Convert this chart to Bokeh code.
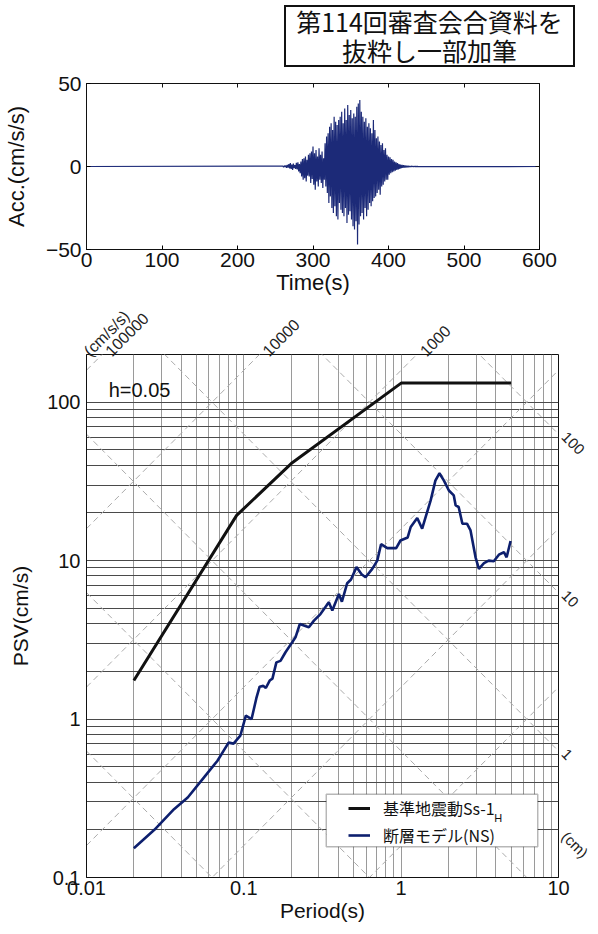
import math
from bokeh.plotting import figure
from bokeh.models import (Label, Legend, LegendItem, BoxAnnotation, FixedTicker,
                          CustomJSTickFormatter, LogAxis, LinearAxis, Range1d, Div)
from bokeh.layouts import column
from bokeh.embed import file_html
from bokeh.resources import INLINE

# ---------------- data ----------------
title_lines = ["第114回審査会合資料を", "抜粋し一部加筆"]

# acceleration time history (cm/s/s), 1 s samples starting at acc_t0
acc_t0 = 260
acc_dt = 1
acc_values = [
    0.3, -0.4, 0.5, -0.3, 0.6, -0.8, 1.0, -0.7, 1.5, -1.2, 2.0, -1.5, 1.2, -2.0, 1.8, -1.0, 0.8, -1.5, 2.2, -1.8,
    2.5, -3.0, 1.5, -4.0, 3.0, -6.0, 4.5, -8.0, 5.0, -7.0, 6.0, -9.0, 4.0, -5.5, 7.0, -6.0, 8.0, -10.0, 9.0, -7.5,
    12.0, -11.0, 8.0, -14.0, 10.0, -9.0, 6.0, -12.0, 11.0, -8.0, 7.0, -10.0, 9.0, -13.0, 5.0, -8.0, 14.0, -12.0, 18.0, -16.0,
    20.0, -22.0, 24.0, -18.0, 26.0, -25.0, 22.0, -28.0, 30.0, -24.0, 27.0, -30.0, 25.0, -32.0, 28.0, -22.0, 30.0, -26.0, 33.0, -28.0,
    26.0, -30.0, 35.0, -25.0, 28.0, -34.0, 37.0, -29.0, 31.0, -27.0, 34.0, -32.0, 29.0, -36.0, 32.0, -38.0, 30.0, -33.0, 36.0, -47.0,
    38.0, -35.0, 40.0, -30.0, 33.0, -28.0, 30.0, -32.0, 27.0, -25.0, 29.0, -30.0, 24.0, -26.0, 26.0, -22.0, 23.0, -24.0, 20.0, -21.0,
    28.0, -19.0, 22.0, -18.0, 17.0, -16.0, 18.0, -14.0, 15.0, -17.0, 13.0, -12.0, 14.0, -11.0, 10.0, -9.0, 11.0, -8.0, 7.0, -8.0,
    6.0, -5.0, 5.5, -4.0, 4.5, -3.5, 4.0, -3.0, 3.0, -2.5, 2.5, -2.0, 2.0, -1.8, 1.5, -1.5, 1.2, -1.0, 1.0, -0.8,
    0.8, -0.7, 0.6, -0.6, 0.5, -0.5, 0.4, -0.4, 0.3, -0.3, 0.3, -0.2, 0.2, -0.2, 0.2, -0.1, 0.1, -0.1, 0.1, -0.1,
]
acc_start_time = 0
acc_end_time = 600
time_ticks = [0, 100, 200, 300, 400, 500, 600]
acc_ticks = [-50, 0, 50]

# pseudo velocity response spectra (h=0.05)
ss_period = [0.02, 0.09, 0.2, 1.0, 5.0]
ss_psv = [1.75, 19.3, 41.0, 132.0, 132.0]

ns_period = [0.02, 0.027, 0.036, 0.044, 0.056, 0.068, 0.080, 0.086, 0.095, 0.103, 0.112, 0.120,
             0.126, 0.133, 0.138, 0.146, 0.152, 0.161, 0.171, 0.184, 0.203, 0.213, 0.227, 0.241,
             0.259, 0.279, 0.307, 0.347, 0.365, 0.402, 0.42, 0.454, 0.48, 0.52, 0.56, 0.594,
             0.655, 0.705, 0.745, 0.816, 0.93, 0.99, 1.1, 1.15, 1.265, 1.36, 1.43, 1.54,
             1.65, 1.75, 1.87, 2.01, 2.16, 2.22, 2.32, 2.45, 2.62, 2.76, 2.97, 3.12,
             3.36, 3.6, 3.88, 4.18, 4.5, 4.68, 4.96]
ns_psv = [0.153, 0.2, 0.27, 0.32, 0.43, 0.546, 0.71, 0.70, 0.785, 1.05, 1.0, 1.35,
          1.6, 1.62, 1.57, 1.75, 1.8, 2.28, 2.33, 2.64, 3.05, 3.28, 3.98, 3.9,
          3.8, 4.18, 4.6, 5.46, 4.84, 6.16, 5.5, 7.2, 7.6, 9.1, 8.2, 7.85,
          8.87, 10.0, 12.7, 12.0, 12.0, 13.4, 14.0, 16.3, 18.6, 15.9, 18.8, 24.0,
          32.0, 35.6, 32.0, 27.7, 25.8, 22.3, 21.8, 17.1, 17.1, 15.5, 10.5, 8.87,
          9.63, 10.0, 9.9, 10.9, 11.3, 10.5, 13.3]

period_ticks = [0.01, 0.1, 1, 10]
psv_ticks = [0.1, 1, 10, 100]
accel_levels = [1, 10, 100, 1000, 10000, 100000, 1000000, 10000000]      # cm/s/s
disp_levels = [0.0001, 0.001, 0.01, 0.1, 1, 10, 100, 1000]               # cm
accel_labels = [100000, 10000, 1000]
accel_unit = "(cm/s/s)"
disp_labels = [100, 10, 1]
disp_unit = "(cm)"
disp_unit_level = 0.3
damping_text = "h=0.05"
legend_labels = ["基準地震動Ss-1", "断層モデル(NS)"]
legend_sub = "H"

FONT = "Liberation Sans"
JP = "Noto Sans CJK JP"

# ---------------- title box ----------------
title_div = Div(
    text="<div style=\"margin-left:279px;width:291px;height:62px;box-sizing:border-box;"
         "border:2px solid #111;font-family:'Noto Sans CJK JP';font-size:25px;line-height:29px;"
         "text-align:center;padding-top:0px;color:#111;\">" + "<br>".join(title_lines) + "</div>",
    width=582, height=62)

# ---------------- top: acceleration ----------------
acc_t = [acc_start_time] + [acc_t0 + i * acc_dt for i in range(len(acc_values))] + [acc_end_time]
acc_y = [0.0] + acc_values + [0.0]

p1 = figure(frame_width=453, frame_height=166, x_range=Range1d(0, 600), y_range=Range1d(-50, 50),
            output_backend="svg", toolbar_location=None,
            min_border_left=80, min_border_right=49, min_border_top=11, min_border_bottom=48)
p1.line(acc_t, acc_y, line_color="#1c2a78", line_width=1.2)
p1.grid.visible = False
p1.outline_line_color = "#111111"
p1.outline_line_width = 1
p1.xaxis.ticker = FixedTicker(ticks=time_ticks)
p1.yaxis.ticker = FixedTicker(ticks=acc_ticks)
p1.xaxis.axis_label = "Time(s)"
p1.yaxis.axis_label = "Acc.(cm/s/s)"
for ax in (p1.xaxis[0], p1.yaxis[0]):
    ax.major_tick_in = 4
    ax.major_tick_out = 0
    ax.minor_tick_line_color = None
    ax.axis_line_color = "#111111"
    ax.major_label_text_font = FONT
    ax.major_label_text_font_size = "21px"
    ax.major_label_text_color = "#111111"
    ax.axis_label_text_font = FONT
    ax.axis_label_text_font_size = "22px"
    ax.axis_label_text_font_style = "normal"
    ax.axis_label_text_color = "#111111"
p1.xaxis.major_label_standoff = 3
p1.xaxis.axis_label_standoff = 0
p1.yaxis.major_label_standoff = 5
p1.yaxis.axis_label_standoff = 14
# tick marks on the top and right edges (no labels)
blank = CustomJSTickFormatter(code="return '';")
p1_top = LinearAxis(ticker=FixedTicker(ticks=time_ticks), formatter=blank)
p1_right = LinearAxis(ticker=FixedTicker(ticks=acc_ticks), formatter=CustomJSTickFormatter(code="return '';"))
for ax in (p1_top, p1_right):
    ax.major_tick_in = 4
    ax.major_tick_out = 0
    ax.major_tick_line_color = "#111111"
    ax.minor_tick_line_color = None
    ax.axis_line_color = None
    ax.major_label_standoff = 0
p1.add_layout(p1_top, "above")
p1.add_layout(p1_right, "right")

# ---------------- bottom: tripartite PSV ----------------
XMIN, XMAX, YMIN, YMAX = 0.01, 10.0, 0.1, 200.0
two_pi = 2 * math.pi

def fx(f):
    return 10 ** (math.log10(XMIN) + f * (math.log10(XMAX) - math.log10(XMIN)))

def fy(f):
    return 10 ** (math.log10(YMIN) + f * (math.log10(YMAX) - math.log10(YMIN)))

p2 = figure(frame_width=472, frame_height=523, x_axis_type="log", y_axis_type="log",
            x_range=Range1d(XMIN, XMAX), y_range=Range1d(YMIN, YMAX),
            output_backend="svg", toolbar_location=None,
            min_border_left=78, min_border_right=40, min_border_top=57, min_border_bottom=40)
p2.outline_line_color = "#111111"

x_minor = [m * 10 ** e for e in (-2, -1, 0) for m in range(2, 10)]
y_minor = [m * 10 ** e for e in (-1, 0, 1) for m in range(2, 10)] + [200]
p2.xaxis.ticker = FixedTicker(ticks=period_ticks, minor_ticks=x_minor)
p2.yaxis.ticker = FixedTicker(ticks=psv_ticks, minor_ticks=y_minor)
p2.xaxis.formatter = CustomJSTickFormatter(code="return String(tick);")
p2.yaxis.formatter = CustomJSTickFormatter(code="return String(tick);")
p2.xgrid.grid_line_color = "#9a9a9a"
p2.xgrid.minor_grid_line_color = "#9a9a9a"
p2.ygrid.grid_line_color = "#4a4a4a"
p2.ygrid.minor_grid_line_color = "#4a4a4a"
p2.xaxis.axis_label = "Period(s)"
p2.yaxis.axis_label = "PSV(cm/s)"
for ax in (p2.xaxis[0], p2.yaxis[0]):
    ax.major_tick_in = 0
    ax.major_tick_out = 0
    ax.minor_tick_in = 0
    ax.minor_tick_out = 0
    ax.axis_line_color = "#111111"
    ax.major_label_text_font = FONT
    ax.major_label_text_font_size = "20px"
    ax.major_label_text_color = "#111111"
    ax.axis_label_text_font = FONT
    ax.axis_label_text_font_size = "21px"
    ax.axis_label_text_font_style = "normal"
    ax.axis_label_text_color = "#111111"
p2.xaxis.major_label_standoff = 3
p2.xaxis.axis_label_standoff = 1
p2.yaxis.major_label_standoff = 6
p2.yaxis.axis_label_standoff = 12

# tripartite diagonals
acc_xs = [[XMIN, XMAX] for a in accel_levels]
acc_ys = [[a * XMIN / two_pi, a * XMAX / two_pi] for a in accel_levels]
dis_xs = [[XMIN, XMAX] for d in disp_levels]
dis_ys = [[two_pi * d / XMIN, two_pi * d / XMAX] for d in disp_levels]
p2.multi_line(acc_xs, acc_ys, line_color="#ababab", line_width=1, line_dash="6 4")
p2.multi_line(dis_xs, dis_ys, line_color="#ababab", line_width=1, line_dash="6 4")

r_ss = p2.line(ss_period, ss_psv, line_color="#111111", line_width=3)
r_ns = p2.line(ns_period, ns_psv, line_color="#0d1f6e", line_width=2.6)

# tripartite scale labels as extra axes (top: acceleration, right: displacement)
label_shift = 10 ** (6 / 157.0)      # nudge labels a few pixels right of the line crossing
top_ticks = [XMIN] + [two_pi * YMAX / a * label_shift for a in accel_labels]
top_texts = [accel_unit] + [str(a) for a in accel_labels]
right_ticks = [two_pi * d / XMAX for d in disp_labels] + [two_pi * disp_unit_level / XMAX]
right_texts = [str(d) for d in disp_labels] + [disp_unit]
lookup = ("const i = tvals.findIndex(t => Math.abs(t - tick) <= 1e-9 * Math.abs(t));"
          "return i >= 0 ? tlabels[i] : '';")
top_ax = LogAxis(ticker=FixedTicker(ticks=top_ticks),
                 formatter=CustomJSTickFormatter(args=dict(tvals=top_ticks, tlabels=top_texts), code=lookup),
                 major_label_orientation=math.pi / 4)
right_ax = LogAxis(ticker=FixedTicker(ticks=right_ticks),
                   formatter=CustomJSTickFormatter(args=dict(tvals=right_ticks, tlabels=right_texts), code=lookup),
                   major_label_orientation=-math.pi / 4)
for ax in (top_ax, right_ax):
    ax.axis_line_color = None
    ax.major_tick_line_color = None
    ax.minor_tick_line_color = None
    ax.major_tick_in = 0
    ax.major_tick_out = 0
    ax.major_label_text_font = FONT
    ax.major_label_text_font_size = "16px"
    ax.major_label_text_color = "#222222"
top_ax.major_label_standoff = 1
right_ax.major_label_standoff = 6
right_ax.major_label_text_font_size = "15px"
p2.add_layout(top_ax, "above")
p2.add_layout(right_ax, "right")

p2.add_layout(Label(x=fx(0.047), y=fy(0.933), text=damping_text, text_font=FONT,
                    text_font_size="20px", text_color="#111111", text_baseline="alphabetic"))

# legend
box = BoxAnnotation(left=fx(0.508), right=fx(0.956), bottom=fy(0.059), top=fy(0.159),
                    fill_color="white", fill_alpha=1, line_color="#111111", line_width=1.5)
p2.add_layout(box)
legend = Legend(items=[LegendItem(label=legend_labels[0], renderers=[r_ss]),
                       LegendItem(label=legend_labels[1], renderers=[r_ns])],
                location=(258, 26), padding=4, spacing=3, glyph_width=22, glyph_height=20,
                label_height=20, label_standoff=13, border_line_alpha=0, background_fill_alpha=0,
                label_text_font=JP, label_text_font_size="16px", label_text_color="#111111")
p2.add_layout(legend)
p2.add_layout(Label(x=fx(0.864), y=fy(0.113), text=legend_sub, text_font=FONT, text_font_size="11px",
                    text_color="#111111", text_baseline="alphabetic"))

layout = column(title_div, p1, p2)
open("out.html", "w").write(file_html(layout, INLINE))
